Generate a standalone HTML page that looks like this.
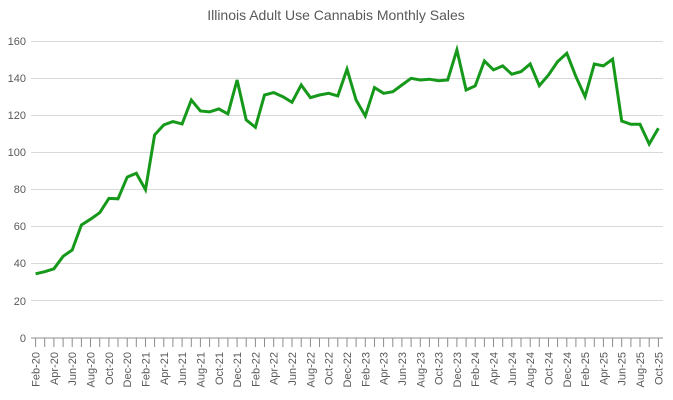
<!DOCTYPE html>
<html>
<head>
<meta charset="utf-8">
<style>
  html, body { margin: 0; padding: 0; background: #ffffff; }
  svg { display: block; }
  text { font-family: "Liberation Sans", Arial, sans-serif; }
</style>
</head>
<body>
<svg width="673" height="400" viewBox="0 0 673 400" xmlns="http://www.w3.org/2000/svg">
  <rect x="0" y="0" width="673" height="400" fill="#ffffff"/>
  <text x="336" y="20" text-anchor="middle" font-size="14" fill="#595959">Illinois Adult Use Cannabis Monthly Sales</text>

  <!-- gridlines -->
  <g stroke="#d9d9d9" stroke-width="1">
    <line x1="31" y1="41.5" x2="663" y2="41.5"/>
    <line x1="31" y1="78.5" x2="663" y2="78.5"/>
    <line x1="31" y1="115.5" x2="663" y2="115.5"/>
    <line x1="31" y1="152.5" x2="663" y2="152.5"/>
    <line x1="31" y1="189.5" x2="663" y2="189.5"/>
    <line x1="31" y1="226.5" x2="663" y2="226.5"/>
    <line x1="31" y1="263.5" x2="663" y2="263.5"/>
    <line x1="31" y1="300.5" x2="663" y2="300.5"/>
  </g>

  <!-- y labels -->
  <g font-size="11" fill="#595959" text-anchor="end">
    <text x="26" y="45">160</text>
    <text x="26" y="82">140</text>
    <text x="26" y="119">120</text>
    <text x="26" y="156">100</text>
    <text x="26" y="193">80</text>
    <text x="26" y="230">60</text>
    <text x="26" y="267">40</text>
    <text x="26" y="305">20</text>
    <text x="26" y="342">0</text>
  </g>

  <!-- x axis -->
  <line x1="31" y1="338" x2="663" y2="338" stroke="#8c8c8c" stroke-width="1"/>
  <g stroke="#8c8c8c" stroke-width="1">
    <path d="M35.6 338V347M44.7 338V347M53.9 338V347M63.1 338V347M72.2 338V347M81.4 338V347M90.5 338V347M99.7 338V347M108.9 338V347M118.0 338V347M127.2 338V347M136.3 338V347M145.5 338V347M154.6 338V347M163.8 338V347M172.9 338V347M182.1 338V347M191.3 338V347M200.4 338V347M209.6 338V347M218.8 338V347M227.9 338V347M237.1 338V347M246.2 338V347M255.4 338V347M264.5 338V347M273.7 338V347M282.9 338V347M292.0 338V347M301.2 338V347M310.4 338V347M319.5 338V347M328.7 338V347M337.8 338V347M347.0 338V347M356.1 338V347M365.3 338V347M374.5 338V347M383.6 338V347M392.8 338V347M401.9 338V347M411.1 338V347M420.3 338V347M429.4 338V347M438.6 338V347M447.7 338V347M456.9 338V347M466.1 338V347M475.2 338V347M484.4 338V347M493.5 338V347M502.7 338V347M511.8 338V347M521.0 338V347M530.2 338V347M539.3 338V347M548.5 338V347M557.6 338V347M566.8 338V347M575.9 338V347M585.1 338V347M594.3 338V347M603.4 338V347M612.6 338V347M621.7 338V347M630.9 338V347M640.0 338V347M649.2 338V347M658.4 338V347"/>
  </g>

  <!-- x labels -->
  <g font-size="11" fill="#595959" text-anchor="end">
    <text transform="translate(39.6,352) rotate(-90)">Feb-20</text>
    <text transform="translate(57.9,352) rotate(-90)">Apr-20</text>
    <text transform="translate(76.2,352) rotate(-90)">Jun-20</text>
    <text transform="translate(94.5,352) rotate(-90)">Aug-20</text>
    <text transform="translate(112.9,352) rotate(-90)">Oct-20</text>
    <text transform="translate(131.2,352) rotate(-90)">Dec-20</text>
    <text transform="translate(149.5,352) rotate(-90)">Feb-21</text>
    <text transform="translate(167.8,352) rotate(-90)">Apr-21</text>
    <text transform="translate(186.1,352) rotate(-90)">Jun-21</text>
    <text transform="translate(204.4,352) rotate(-90)">Aug-21</text>
    <text transform="translate(222.8,352) rotate(-90)">Oct-21</text>
    <text transform="translate(241.1,352) rotate(-90)">Dec-21</text>
    <text transform="translate(259.4,352) rotate(-90)">Feb-22</text>
    <text transform="translate(277.7,352) rotate(-90)">Apr-22</text>
    <text transform="translate(296.0,352) rotate(-90)">Jun-22</text>
    <text transform="translate(314.4,352) rotate(-90)">Aug-22</text>
    <text transform="translate(332.7,352) rotate(-90)">Oct-22</text>
    <text transform="translate(351.0,352) rotate(-90)">Dec-22</text>
    <text transform="translate(369.3,352) rotate(-90)">Feb-23</text>
    <text transform="translate(387.6,352) rotate(-90)">Apr-23</text>
    <text transform="translate(405.9,352) rotate(-90)">Jun-23</text>
    <text transform="translate(424.3,352) rotate(-90)">Aug-23</text>
    <text transform="translate(442.6,352) rotate(-90)">Oct-23</text>
    <text transform="translate(460.9,352) rotate(-90)">Dec-23</text>
    <text transform="translate(479.2,352) rotate(-90)">Feb-24</text>
    <text transform="translate(497.5,352) rotate(-90)">Apr-24</text>
    <text transform="translate(515.8,352) rotate(-90)">Jun-24</text>
    <text transform="translate(534.2,352) rotate(-90)">Aug-24</text>
    <text transform="translate(552.5,352) rotate(-90)">Oct-24</text>
    <text transform="translate(570.8,352) rotate(-90)">Dec-24</text>
    <text transform="translate(589.1,352) rotate(-90)">Feb-25</text>
    <text transform="translate(607.4,352) rotate(-90)">Apr-25</text>
    <text transform="translate(625.7,352) rotate(-90)">Jun-25</text>
    <text transform="translate(644.0,352) rotate(-90)">Aug-25</text>
    <text transform="translate(662.4,352) rotate(-90)">Oct-25</text>
  </g>

  <!-- series -->
  <polyline fill="none" stroke="#16991a" stroke-width="3" stroke-linejoin="miter" stroke-miterlimit="4" stroke-linecap="butt"
    points="35.6,273.8 44.7,271.7 53.9,268.8 63.1,256.3 72.2,250.0 81.4,225.0 90.5,219.2 99.7,212.7 108.9,198.4 118.0,198.8 127.2,177.1 136.3,173.3 145.5,189.7 154.6,134.9 163.8,124.9 172.9,121.6 182.1,124.0 191.3,100.0 200.4,111.0 209.6,111.9 218.8,108.9 227.9,113.9 237.1,80.0 246.2,119.9 255.4,127.3 264.5,95.0 273.7,92.6 282.9,96.7 292.0,102.3 301.2,85.0 310.4,97.6 319.5,95.0 328.7,93.3 337.8,95.9 347.0,69.2 356.1,100.0 365.3,116.0 374.5,87.6 383.6,93.3 392.8,91.7 401.9,85.0 411.1,78.3 420.3,80.0 429.4,79.2 438.6,80.7 447.7,80.0 456.9,49.9 466.1,90.0 475.2,85.9 484.4,61.0 493.5,69.9 502.7,65.9 511.8,74.2 521.0,71.6 530.2,64.0 539.3,85.7 548.5,75.0 557.6,61.6 566.8,53.3 575.9,76.6 585.1,96.7 594.3,64.0 603.4,65.9 612.6,59.2 621.7,121.0 630.9,124.3 640.0,124.3 649.2,144.0 658.4,128.2"/>
</svg>
</body>
</html>
